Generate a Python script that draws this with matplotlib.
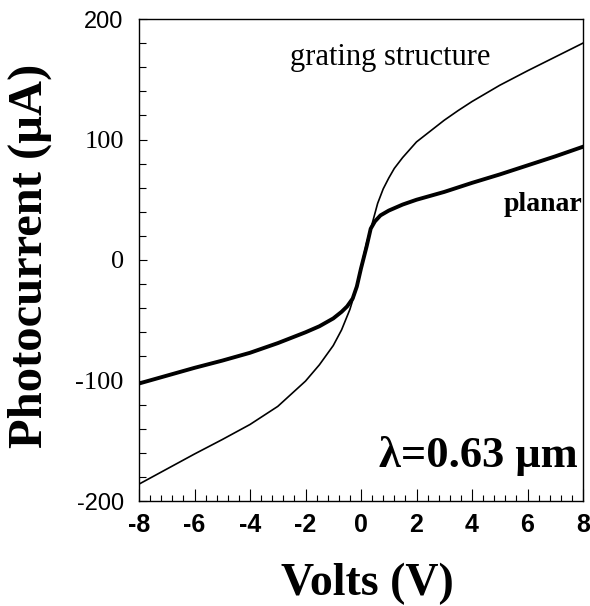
import numpy as np
import matplotlib
matplotlib.use("Agg")
import matplotlib.pyplot as plt
from matplotlib.ticker import MultipleLocator

# --------------------------
# Data
# --------------------------
v_grating = [-8, -7, -6, -5, -4, -3, -2.5, -2, -1.5, -1, -0.7, -0.4, -0.2, 0,
             0.2, 0.4, 0.6, 0.8, 1.0, 1.2, 1.5, 2, 2.5, 3, 3.5, 4, 5, 6, 7, 8]
i_grating = [-186, -173.5, -161, -149, -136.5, -121.5, -111, -100.5, -87, -71,
             -58, -41, -26, -6,
             14, 30, 47, 59, 68, 76, 85, 98, 107, 116, 124, 131.5, 145, 157,
             168.5, 180]

v_planar = [-8, -7, -6, -5, -4, -3, -2, -1.5, -1, -0.7, -0.5, -0.3, -0.15, 0,
            0.2, 0.35, 0.5, 0.7, 1, 1.5, 2, 3, 4, 5, 6, 7, 8]
i_planar = [-102.5, -96, -89.5, -83.5, -77, -69, -60, -55, -48.5, -43, -38.5,
            -32, -22, -7,
            11, 26, 32, 37, 41, 46, 50, 56.5, 64, 71, 78.5, 86, 94]

x_ticks = [-8, -6, -4, -2, 0, 2, 4, 6, 8]
y_ticks = [-200, -100, 0, 100, 200]

serif = "Liberation Serif"
sans = "Liberation Sans"

fig = plt.figure(figsize=(5.9, 6.06), dpi=100)
ax = fig.add_axes([139 / 590, 1 - 501 / 606, 444 / 590, 482 / 606])

ax.plot(v_grating, i_grating, color="black", linewidth=1.2)
ax.plot(v_planar, i_planar, color="black", linewidth=2.8)

ax.set_xlim(-8, 8)
ax.set_ylim(-200, 200)
ax.set_xticks(x_ticks)
ax.set_yticks(y_ticks)
ax.xaxis.set_minor_locator(MultipleLocator(0.4))
ax.yaxis.set_minor_locator(MultipleLocator(20))

ax.tick_params(which="both", direction="in", top=False, right=False, width=0.8)
ax.tick_params(axis="x", which="major", length=9, pad=9)
ax.tick_params(axis="x", which="minor", length=4)
ax.tick_params(axis="y", which="major", length=6, pad=11)
ax.tick_params(axis="y", which="minor", length=5)
for s in ax.spines.values():
    s.set_linewidth(1.0)

ax.set_xticklabels([str(t) for t in x_ticks], fontfamily=sans,
                   fontsize=18, fontweight="bold")
ax.set_yticklabels([str(t) for t in y_ticks], fontfamily=serif, fontsize=19)
# top and bottom y labels are in a sans face
for lab in (ax.get_yticklabels()[0], ax.get_yticklabels()[-1]):
    lab.set_fontfamily(sans)
    lab.set_fontsize(17)

ax.text(1.05, 162, "grating structure", fontfamily=serif, fontsize=22,
        ha="center", va="baseline")
ax.text(7.98, 41, "planar", fontfamily=serif, fontsize=20,
        fontweight="bold", ha="right", va="baseline")
ax.text(7.8, -172, "λ=0.63 μm", fontfamily=serif, fontsize=32,
        fontweight="bold", ha="right", va="baseline")

fig.text(367 / 590, 1 - 595 / 606, "Volts (V)", fontfamily=serif,
         fontsize=33, fontweight="bold", ha="center", va="baseline")
fig.text(30 / 590, 1 - 256 / 606, "Photocurrent (μA)", fontfamily=serif,
         fontsize=35, fontweight="bold", ha="center", va="center",
         rotation=90)

fig.savefig("out.png", dpi=100)
